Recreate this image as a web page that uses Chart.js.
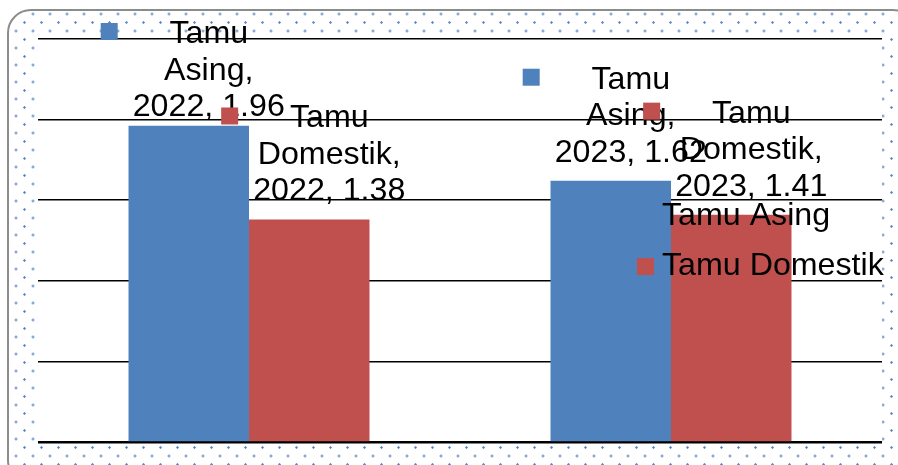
<!DOCTYPE html>
<html>
<head>
<meta charset="utf-8">
<script src="https://cdn.jsdelivr.net/npm/chart.js@4"></script>
<style>
  html,body{margin:0;padding:0;background:#fff;}
  #wrap{position:relative;width:898px;height:465px;overflow:hidden;}
  #frame{position:absolute;left:7px;top:9px;width:910px;height:475px;box-sizing:border-box;
    border:2px solid #8c8c8c;border-radius:24px;
    background-image:radial-gradient(circle, rgba(70,120,190,.9) 0 0.9px, rgba(70,120,190,0) 1.5px),
                     radial-gradient(circle, rgba(70,120,190,.9) 0 0.9px, rgba(70,120,190,0) 1.5px);
    background-size:17px 17px,17px 17px;
    background-position:7px 3px,15.5px 11.5px;}
  #chart{position:absolute;left:0;top:0;}
</style>
</head>
<body>
<div id="wrap">
  <div id="frame"></div>
  <canvas id="chart" width="898" height="465"></canvas>
</div>
<script>
// Daten
const categories = ['2022', '2023'];
const seriesNames = ['Tamu Asing', 'Tamu Domestik'];
const tamuAsing = [1.96, 1.62];
const tamuDomestik = [1.38, 1.41];
const yMax = 2.5, yStep = 0.5;
const colors = ['#4F81BD', '#C0504D'];

const FONT = '32.2px "Liberation Sans", Arial, sans-serif';

// weisser Plotbereich
const plotBg = {
  id: 'plotBg',
  beforeDraw(c) {
    const a = c.chartArea, ctx = c.ctx;
    ctx.save(); ctx.fillStyle = '#fff';
    ctx.fillRect(a.left, a.top - 1, a.right - a.left, a.bottom - a.top + 2);
    ctx.restore();
  }
};

// Datenbeschriftungen mit Legendensymbol
const dataLabels = {
  id: 'dataLabels',
  afterDatasetsDraw(c) {
    const ctx = c.ctx;
    ctx.save();
    ctx.font = FONT; ctx.fillStyle = '#000'; ctx.textAlign = 'center'; ctx.textBaseline = 'alphabetic';
    c.data.datasets.forEach((ds, i) => {
      c.getDatasetMeta(i).data.forEach((el, j) => {
        const words = ds.label.split(' ');
        words[words.length - 1] += ',';
        const lines = [...words, `${categories[j]}, ${ds.data[j].toFixed(2)}`];
        const maxW = Math.max(...lines.map(l => ctx.measureText(l).width));
        const cx = el.x + 20;
        const lh = 36.5;
        const b0 = Math.max(43, el.y - 19 - lh * (lines.length - 1));
        ctx.fillStyle = '#000';
        lines.forEach((l, k) => ctx.fillText(l, cx, b0 + k * lh));
        ctx.fillStyle = ds.backgroundColor;
        ctx.fillRect(cx - maxW / 2 - 15 - 17, b0 - 20, 17, 17);
      });
    });
    ctx.restore();
  }
};

// Legende
const legendBox = {
  id: 'legendBox',
  afterDatasetsDraw(c) {
    const ctx = c.ctx;
    ctx.save();
    ctx.font = FONT; ctx.textAlign = 'left'; ctx.textBaseline = 'alphabetic';
    c.data.datasets.forEach((ds, i) => {
      const base = 225 + i * 50;
      ctx.fillStyle = ds.backgroundColor;
      ctx.fillRect(637, base - 17, 17, 17);
      ctx.fillStyle = '#000';
      ctx.fillText(ds.label, 662, base);
    });
    ctx.restore();
  }
};

new Chart(document.getElementById('chart').getContext('2d'), {
  type: 'bar',
  data: {
    labels: categories,
    datasets: [
      { label: seriesNames[0], data: tamuAsing, backgroundColor: colors[0] },
      { label: seriesNames[1], data: tamuDomestik, backgroundColor: colors[1] }
    ]
  },
  options: {
    responsive: false, animation: false, devicePixelRatio: 1,
    layout: { padding: { left: 38, right: 16, top: 38.5, bottom: 22.5 } },
    datasets: { bar: { categoryPercentage: 0.571, barPercentage: 1, borderWidth: 0 } },
    plugins: { legend: { display: false }, tooltip: { enabled: false } },
    scales: {
      x: { display: false },
      y: {
        min: 0, max: yMax,
        ticks: { display: false, stepSize: yStep },
        border: { display: false },
        grid: { color: '#000', lineWidth: ctx => ctx.tick && ctx.tick.value === 0 ? 2.5 : 1.5, drawTicks: false },
        afterFit: s => { s.width = 0; }
      }
    }
  },
  plugins: [plotBg, dataLabels, legendBox]
});
</script>
</body>
</html>
